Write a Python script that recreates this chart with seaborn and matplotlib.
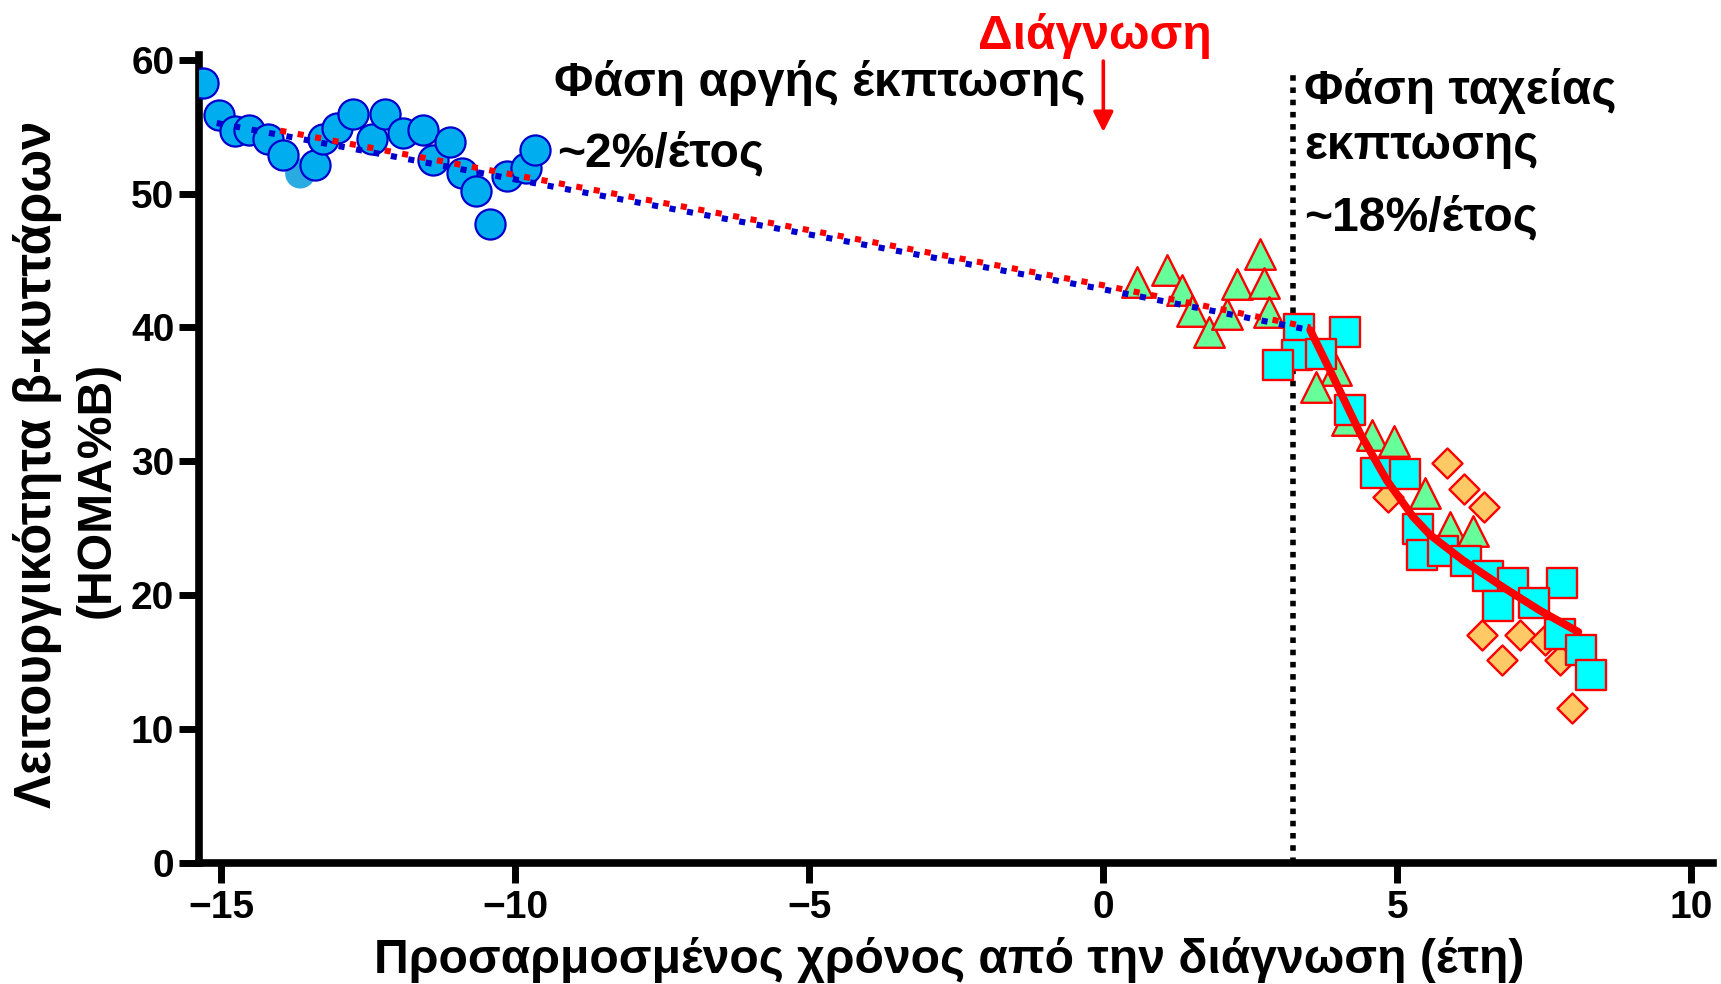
import numpy as np
import pandas as pd
import matplotlib
matplotlib.use("Agg")
import matplotlib.pyplot as plt
import seaborn as sns

# ---------------- data ----------------
circle_x = [-15.31, -15.04, -14.77, -14.53, -14.20, -13.95, -13.40, -13.28, -13.03, -12.76,
            -12.44, -12.22, -11.91, -11.58, -11.40, -11.12, -10.90, -10.67, -10.44, -10.14,
            -9.82, -9.66]
circle_y = [58.25, 55.90, 54.70, 54.77, 54.10, 52.86, 52.10, 54.10, 54.92, 55.92,
            54.10, 55.97, 54.52, 54.77, 52.48, 53.85, 51.53, 50.19, 47.70, 51.29,
            51.90, 53.28]
pale_x = [-13.66]
pale_y = [51.50]

tri_x = [0.57, 1.08, 1.33, 1.50, 1.80, 2.10, 2.27, 2.67, 2.74, 2.81,
         3.96, 3.62, 4.14, 4.57, 4.94, 5.47, 5.89, 6.28]
tri_y = [43.37, 44.29, 42.78, 41.21, 39.63, 40.97, 43.27, 45.51, 43.31, 41.18,
         36.80, 35.52, 33.07, 32.00, 31.50, 27.63, 25.10, 24.83]

sq_x = [3.33, 4.11, 3.30, 3.71, 2.97, 4.20, 4.64, 5.13, 5.35, 5.42,
        5.78, 6.17, 6.55, 6.97, 7.80, 6.72, 7.33, 7.77, 8.13, 8.30]
sq_y = [39.92, 39.66, 37.92, 38.05, 37.18, 33.80, 29.16, 29.09, 24.91, 22.99,
        23.31, 22.54, 21.42, 20.92, 20.92, 19.18, 19.43, 17.07, 15.90, 14.03]

dia_x = [5.85, 6.14, 6.47, 4.85, 6.44, 6.78, 7.09, 7.51, 7.77, 7.98]
dia_y = [29.84, 27.90, 26.60, 27.34, 17.02, 15.15, 17.02, 16.65, 15.15, 11.54]

slow_fit_x = [-15.08, -9.18, 0.0, 3.52]
slow_fit_y = [55.27, 50.37, 42.85, 39.80]
slow_red_x = [-14.0, -9.18, 0.0, 3.52]
slow_red_y = [54.70, 50.70, 43.15, 40.00]

fast_fit_x = [3.52, 3.91, 4.37, 4.82, 5.27, 5.56, 6.12, 6.80, 7.43, 8.08]
fast_fit_y = [39.80, 36.30, 32.07, 28.59, 25.85, 24.50, 22.60, 20.60, 18.85, 17.26]

onset_x = [3.22, 3.22]
onset_y = [0.0, 59.3]

diag_arrow_x = 0.0
diag_arrow_y = [59.9, 54.6]

x_ticks = [-15, -10, -5, 0, 5, 10]
y_ticks = [0, 10, 20, 30, 40, 50, 60]

# ---------------- style ----------------
sns.set_theme(style="ticks")
plt.rcParams['font.family'] = ['Liberation Sans', 'DejaVu Sans']
plt.rcParams['font.weight'] = 'bold'
plt.rcParams['axes.unicode_minus'] = True

W, H = 1721, 984
fig = plt.figure(figsize=(W / 100, H / 100), dpi=100)
ax_left, ax_right, ax_bottom, ax_top = 198.5, 1713, 863, 55
ax = fig.add_axes([ax_left / W, 1 - ax_bottom / H, (ax_right - ax_left) / W, (ax_bottom - ax_top) / H])

ax.set_xlim(-15.39, 10.37)
ax.set_ylim(0, 60.35)

# vertical onset line (behind markers)
ax.plot(onset_x, onset_y, color='black', linewidth=4.0, linestyle=(0, (1, 1.2)),
        dash_capstyle='butt', zorder=1)

# markers
pale = pd.DataFrame({'x': pale_x, 'y': pale_y})
sns.scatterplot(data=pale, x='x', y='y', marker='o', s=470, color='#29ABE2',
                edgecolor='none', linewidth=0, ax=ax, zorder=2)
circ = pd.DataFrame({'x': circle_x, 'y': circle_y})
sns.scatterplot(data=circ, x='x', y='y', marker='o', s=470, color='#00AEEF',
                edgecolor='#0000CC', linewidth=1.6, ax=ax, zorder=3)
dia = pd.DataFrame({'x': dia_x, 'y': dia_y})
sns.scatterplot(data=dia, x='x', y='y', marker='D', s=15.3 ** 2, color='#FFC966',
                edgecolor='#FF0000', linewidth=1.7, ax=ax, zorder=3)
tri = pd.DataFrame({'x': tri_x, 'y': tri_y})
sns.scatterplot(data=tri, x='x', y='y', marker='^', s=22 ** 2, color='#66FF99',
                edgecolor='#FF0000', linewidth=1.7, ax=ax, zorder=3)
sq = pd.DataFrame({'x': sq_x, 'y': sq_y})
sns.scatterplot(data=sq, x='x', y='y', marker='s', s=21.6 ** 2, color='#00FFFF',
                edgecolor='#FF0000', linewidth=1.7, ax=ax, zorder=3)

# fit lines
ax.plot(slow_red_x, slow_red_y, color='#FF0000', linewidth=4.4, linestyle=(0, (1, 1.9)),
        dash_capstyle='butt', zorder=4)
ax.plot(slow_fit_x, slow_fit_y, color='#0000CC', linewidth=4.4, linestyle=(0, (1, 1.9)),
        dash_capstyle='butt', zorder=5)
sns.lineplot(x=fast_fit_x, y=fast_fit_y, color='#FF0000', linewidth=5.6, ax=ax,
             sort=False, estimator=None, zorder=6)

# arrow for diagnosis
ax.annotate('', xy=(diag_arrow_x, diag_arrow_y[1]), xytext=(diag_arrow_x, diag_arrow_y[0]),
            arrowprops=dict(arrowstyle='-|>', color='#FF0000', lw=2.6,
                            mutation_scale=30, shrinkA=0, shrinkB=0),
            annotation_clip=False, zorder=7)

# axes styling
for s in ['top', 'right']:
    ax.spines[s].set_visible(False)
for s in ['left', 'bottom']:
    ax.spines[s].set_linewidth(5.5)
    ax.spines[s].set_color('black')
ax.set_xticks(x_ticks)
ax.set_yticks(y_ticks)
ax.set_xticklabels([f'\u2212{abs(t)}' if t < 0 else f'{t}' for t in x_ticks])
ax.set_yticklabels([str(t) for t in y_ticks])
ax.tick_params(axis='both', length=14.4, width=5.0, color='black', labelsize=28,
               labelcolor='black', direction='out')
ax.tick_params(axis='y', pad=3.0)
ax.tick_params(axis='x', pad=5.0)
for lab in ax.get_xticklabels() + ax.get_yticklabels():
    lab.set_fontweight('bold')
ax.set_xlabel('')
ax.set_ylabel('')
ax.set_facecolor('white')
fig.patch.set_facecolor('white')

def fx(px):
    return px / W

def fy(py):
    return 1 - py / H

fs = 34.6
fig.text(fx(1095), fy(49), 'Διάγνωση', color='#FF0000', fontsize=fs, fontweight='bold',
         ha='center', va='baseline')
fig.text(fx(554), fy(96), 'Φάση αργής έκπτωσης', color='black', fontsize=fs,
         fontweight='bold', ha='left', va='baseline')
fig.text(fx(557), fy(166), '~2%/έτος', color='black', fontsize=fs,
         fontweight='bold', ha='left', va='baseline')
fig.text(fx(1304), fy(104), 'Φάση ταχείας', color='black', fontsize=fs,
         fontweight='bold', ha='left', va='baseline')
fig.text(fx(1304), fy(159), 'εκπτωσης', color='black', fontsize=fs,
         fontweight='bold', ha='left', va='baseline')
fig.text(fx(1304), fy(230), '~18%/έτος', color='black', fontsize=fs,
         fontweight='bold', ha='left', va='baseline')

fig.text(fx(38), fy(464), 'Λειτουργικότητα β-κυττάρων', color='black', fontsize=36.5,
         fontweight='bold', rotation=90, ha='center', va='center')
fig.text(fx(97), fy(490), '(HOMA%B)', color='black', fontsize=34.6,
         fontweight='bold', rotation=90, ha='center', va='center')
fig.text(fx(949.5), fy(960), 'Προσαρμοσμένος χρόνος από την διάγνωση (έτη)', color='black',
         fontsize=34.6, fontweight='bold', ha='center', va='center')

fig.savefig('out.png', dpi=100, facecolor='white')
